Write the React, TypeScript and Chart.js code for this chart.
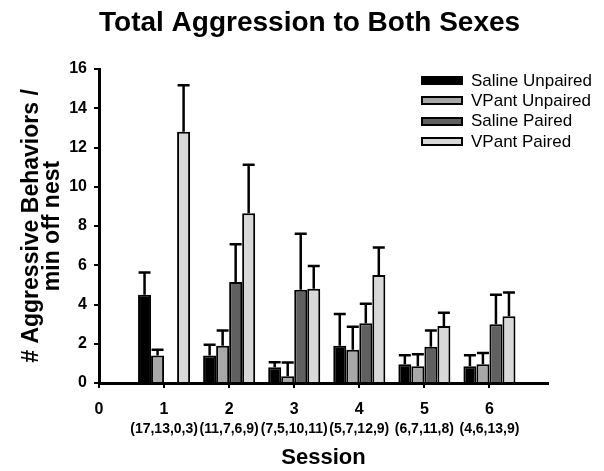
import React, { useEffect, useRef } from 'react';
import { Chart, registerables } from 'chart.js';

Chart.register(...registerables);

const FONT = "'Liberation Sans', Arial, Helvetica, sans-serif";

const chartTitle = 'Total Aggression to Both Sexes';
const yAxisTitle = ['# Aggressive Behaviors /', 'min off nest'];
const xAxisTitle = 'Session';

const sessions = [1, 2, 3, 4, 5, 6];
const axisTicks = [0, 1, 2, 3, 4, 5, 6];
const sampleSizes = ['(17,13,0,3)', '(11,7,6,9)', '(7,5,10,11)', '(5,7,12,9)', '(6,7,11,8)', '(4,6,13,9)'];

const seriesNames = ['Saline Unpaired', 'VPant Unpaired', 'Saline Paired', 'VPant Paired'];
const seriesColors = ['#000000', '#a8a8a8', '#606060', '#d8d8d8'];

const salineUnpaired = [4.5, 1.4, 0.8, 1.9, 0.95, 0.85];
const salineUnpairedErr = [1.13, 0.55, 0.26, 1.62, 0.47, 0.57];
const vpantUnpaired = [1.4, 1.9, 0.35, 1.7, 0.85, 0.95];
const vpantUnpairedErr = [0.3, 0.78, 0.7, 1.17, 0.62, 0.58];
const salinePaired = [null, 5.15, 4.75, 3.05, 1.85, 3.0];
const salinePairedErr = [null, 1.92, 2.85, 0.99, 0.83, 1.5];
const vpantPaired = [12.8, 8.65, 4.8, 5.5, 2.9, 3.4];
const vpantPairedErr = [2.37, 2.47, 1.16, 1.4, 0.68, 1.21];

const seriesValues = [salineUnpaired, vpantUnpaired, salinePaired, vpantPaired];
const seriesErrors = [salineUnpairedErr, vpantUnpairedErr, salinePairedErr, vpantPairedErr];

const Y_MIN = 0;
const Y_MAX = 16;
const Y_STEP = 2;
const X_MIN = 0;
const X_MAX = 6.9;

const errorBarsPlugin = {
  id: 'errorBars',
  afterDatasetsDraw(chart: any) {
    const { ctx } = chart;
    const yScale = chart.scales.y;
    ctx.save();
    ctx.strokeStyle = '#000';
    ctx.lineWidth = 2.5;
    chart.data.datasets.forEach((ds: any, i: number) => {
      const meta = chart.getDatasetMeta(i);
      const errs = seriesErrors[i];
      meta.data.forEach((bar: any, j: number) => {
        const v = seriesValues[i][j];
        const e = errs[j];
        if (v == null || e == null) return;
        const top = yScale.getPixelForValue(v + e);
        ctx.beginPath();
        ctx.moveTo(bar.x, bar.y);
        ctx.lineTo(bar.x, top);
        ctx.moveTo(bar.x - 6, top);
        ctx.lineTo(bar.x + 6, top);
        ctx.stroke();
      });
    });
    ctx.restore();
  },
};

export default function App() {
  const canvasRef = useRef<HTMLCanvasElement>(null);

  useEffect(() => {
    const datasets = seriesNames.map((name, i) => ({
      label: name,
      data: sessions.map((s, j) => ({ x: s, y: seriesValues[i][j] })),
      backgroundColor: seriesColors[i],
      borderColor: '#000',
      borderWidth: 2,
      categoryPercentage: 0.8,
      barPercentage: 1.0,
    }));

    const chart = new Chart(canvasRef.current as HTMLCanvasElement, {
      type: 'bar',
      data: { datasets },
      plugins: [errorBarsPlugin],
      options: {
        animation: false,
        responsive: false,
        layout: { padding: { left: 0, right: 56, top: 0, bottom: 0 } },
        plugins: {
          legend: { display: false },
          tooltip: { enabled: false },
          title: {
            display: true,
            text: chartTitle,
            align: 'start',
            fullSize: false,
            color: '#000',
            font: { family: FONT, size: 28, weight: 'bold', lineHeight: 1 },
            padding: { top: 9, bottom: 32 },
          },
        },
        scales: {
          x: {
            type: 'linear',
            position: 'bottom',
            min: X_MIN,
            max: X_MAX,
            offset: false,
            afterBuildTicks: (scale: any) => {
              scale.ticks = axisTicks.map((v) => ({ value: v }));
            },
            afterFit: (scale: any) => {
              scale.height = 36;
            },
            grid: {
              offset: false,
              drawOnChartArea: false,
              drawTicks: true,
              tickLength: 5,
              color: '#000',
              lineWidth: 2,
            },
            border: { display: true, color: '#000', width: 3 },
            ticks: {
              autoSkip: false,
              maxRotation: 0,
              minRotation: 0,
              padding: 12,
              color: '#000',
              font: { family: FONT, size: 16, weight: 'bold', lineHeight: 1.2 },
              callback: (v: any) => String(v),
            },
          },
          x2: {
            type: 'linear',
            axis: 'x',
            position: 'bottom',
            min: X_MIN,
            max: X_MAX,
            offset: false,
            afterBuildTicks: (scale: any) => {
              scale.ticks = axisTicks.map((v) => ({ value: v }));
            },
            afterFit: (scale: any) => {
              scale.height = 52;
            },
            grid: { display: false, drawTicks: false, drawOnChartArea: false, offset: false },
            border: { display: false },
            ticks: {
              autoSkip: false,
              maxRotation: 0,
              minRotation: 0,
              padding: 2,
              color: '#000',
              font: { family: FONT, size: 14, weight: 'bold', lineHeight: 1.2 },
              callback: (v: any) => (v >= 1 && v <= sampleSizes.length ? sampleSizes[v - 1] : ''),
            },
            title: {
              display: true,
              text: xAxisTitle,
              color: '#000',
              font: { family: FONT, size: 22, weight: 'bold', lineHeight: 1 },
              padding: { top: 0, bottom: 2.5 },
            },
          },
          y: {
            type: 'linear',
            position: 'left',
            min: Y_MIN,
            max: Y_MAX,
            afterFit: (scale: any) => {
              scale.width = 99;
            },
            grid: {
              drawOnChartArea: false,
              drawTicks: true,
              tickLength: 5,
              color: '#000',
              lineWidth: 2,
            },
            border: { display: true, color: '#000', width: 3 },
            ticks: {
              stepSize: Y_STEP,
              padding: 7,
              color: '#000',
              font: { family: FONT, size: 16, weight: 'bold', lineHeight: 1.2 },
            },
            title: {
              display: true,
              text: yAxisTitle,
              color: '#000',
              font: { family: FONT, size: 23, weight: 'bold', lineHeight: 21 / 23 },
              padding: { top: 21.5, bottom: 0 },
            },
          },
        },
      } as any,
    });
    return () => chart.destroy();
  }, []);

  return (
    <div style={{ position: 'absolute', left: 0, top: 0, width: 604, height: 471, background: '#fff' }}>
      <canvas ref={canvasRef} width={604} height={471} style={{ display: 'block' }} />
      <div style={{ position: 'absolute', left: 421, top: 70.5, fontFamily: FONT, fontSize: 17, color: '#000' }}>
        {seriesNames.map((name, i) => (
          <div key={name} style={{ display: 'flex', alignItems: 'center', height: 20.3, whiteSpace: 'nowrap' }}>
            <span
              style={{
                display: 'inline-block',
                boxSizing: 'border-box',
                width: 42,
                height: 9,
                border: '2px solid #000',
                background: seriesColors[i],
                marginRight: 8,
              }}
            />
            <span>{name}</span>
          </div>
        ))}
      </div>
    </div>
  );
}
